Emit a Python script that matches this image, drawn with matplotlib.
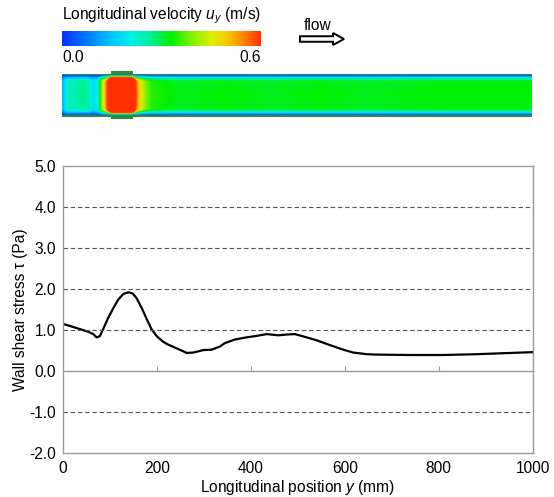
import numpy as np
import matplotlib
matplotlib.use('Agg')
import matplotlib.pyplot as plt
from matplotlib.colors import LinearSegmentedColormap, Normalize
from matplotlib.cm import ScalarMappable
from matplotlib.patches import Rectangle, FancyArrow

plt.rcParams['font.family'] = 'Liberation Sans'
plt.rcParams['font.size'] = 11.2
plt.rcParams['mathtext.fontset'] = 'custom'
plt.rcParams['mathtext.rm'] = 'Liberation Sans'
plt.rcParams['mathtext.it'] = 'Liberation Sans:italic'

# wall shear stress along the pipe
pos_mm = [0, 15, 37, 54, 65, 72, 79, 86, 97, 108, 118, 129, 140, 149, 157,
          168, 179, 189, 200, 214, 225, 243, 264, 278, 299, 317, 335, 345,
          367, 391, 409, 434, 459, 477, 494, 519, 540, 569, 597, 618, 647,
          668, 739, 810, 881, 952, 1000]
wss_pa = [1.15, 1.10, 1.02, 0.96, 0.90, 0.82, 0.85, 1.02, 1.30, 1.54, 1.74,
          1.88, 1.92, 1.89, 1.78, 1.54, 1.26, 1.02, 0.85, 0.71, 0.64, 0.55,
          0.44, 0.45, 0.51, 0.52, 0.60, 0.68, 0.77, 0.82, 0.85, 0.90, 0.87,
          0.89, 0.90, 0.82, 0.75, 0.63, 0.52, 0.45, 0.41, 0.40, 0.39, 0.39,
          0.41, 0.44, 0.46]

x_ticks = [0, 200, 400, 600, 800, 1000]
y_ticks = [-2, -1, 0, 1, 2, 3, 4, 5]
y_ticklabels = ['-2.0', '-1.0', '0.0', '1.0', '2.0', '3.0', '4.0', '5.0']
grid_levels = [-1, 1, 2, 3, 4]

# centreline velocity along the pipe (red = saturated)
u_pos_mm = [0, 5, 12, 30, 45, 58, 64, 70, 76, 80, 86, 92, 97, 104, 148, 157,
            163, 170, 177, 190, 250, 350, 450, 550, 650, 800, 1000]
u_center = [0.12, 0.18, 0.24, 0.25, 0.27, 0.24, 0.19, 0.19, 0.22, 0.30, 0.45,
            0.52, 0.65, 1.20, 1.20, 0.60, 0.50, 0.45, 0.40, 0.35, 0.32, 0.33,
            0.32, 0.33, 0.32, 0.33, 0.33]
# radial velocity shape, fraction of centreline value
r_frac = [0.0, 0.70, 0.78, 0.84, 0.90, 0.95, 1.0]
u_shape = [1.0, 0.98, 0.88, 0.70, 0.50, 0.30, 0.08]

stenosis_mm = (105, 150)
u_range = (0.0, 0.6)

cmap = LinearSegmentedColormap.from_list('vel', [
    (0.00, '#0a32ff'), (0.12, '#0078ff'), (0.25, '#00c8ff'),
    (0.35, '#00f0e8'), (0.45, '#00f08c'), (0.55, '#00f000'),
    (0.65, '#80f000'), (0.75, '#d8f000'), (0.82, '#f8d000'),
    (0.90, '#ff9000'), (1.00, '#ff3000')])
wall_color = '#2d8c3c'
frame_color = '#999999'

fig = plt.figure(figsize=(5.54, 4.97), dpi=100)
W, H = 554, 497


def px_axes(x0, y0, x1, y1):
    return fig.add_axes([x0 / W, 1 - y1 / H, (x1 - x0) / W, (y1 - y0) / H])


# ---- velocity contour of the pipe ----
pipe = px_axes(62, 69.3, 532, 121.3)
xg = np.linspace(0, 1000, 1001)
rg = np.linspace(-1, 1, 121)
field = np.interp(np.abs(rg), r_frac, u_shape)[:, None] * np.interp(xg, u_pos_mm, u_center)[None, :]
pipe.imshow(field, extent=[0, 1000, -1, 1], origin='lower', aspect='auto',
            cmap=cmap, vmin=u_range[0], vmax=u_range[1], interpolation='bilinear')
pipe.add_patch(Rectangle((0, 1.0), 1000, 0.09, color=wall_color, lw=0))
pipe.add_patch(Rectangle((0, -1.09), 1000, 0.09, color=wall_color, lw=0))
s0, s1 = stenosis_mm
pipe.add_patch(Rectangle((s0, 1.0), s1 - s0, 0.24, color=wall_color, lw=0))
pipe.add_patch(Rectangle((s0, -1.2), s1 - s0, 0.2, color=wall_color, lw=0))
pipe.set_xlim(0, 1000)
pipe.set_ylim(-1.3, 1.3)
pipe.axis('off')

# ---- colour bar ----
cax = px_axes(62, 31, 261, 46)
cb = fig.colorbar(ScalarMappable(Normalize(*u_range), cmap), cax=cax, orientation='horizontal')
cb.set_ticks([])
cb.outline.set_visible(False)

# ---- overlay for the text and arrow ----
ov = fig.add_axes([0, 0, 1, 1])
ov.set_xlim(0, W)
ov.set_ylim(H, 0)
ov.axis('off')
ov.text(62, 16, 'Longitudinal velocity $u_y$ (m/s)', va='center', ha='left')
ov.text(62, 57, '%.1f' % u_range[0], va='center', ha='left')
ov.text(261, 57, '%.1f' % u_range[1], va='center', ha='right')
ov.text(318, 25, 'flow', va='center', ha='center')
ov.add_patch(FancyArrow(300, 39, 44, 0, width=5.5, head_width=12, head_length=11,
                        length_includes_head=True, fc='white', ec='black', lw=1.4))

# ---- wall shear stress plot ----
ax = px_axes(62.7, 166, 532.7, 453)
ax.plot(pos_mm, wss_pa, color='black', lw=1.6)
for lv in grid_levels:
    ax.axhline(lv, color='#555555', lw=0.8, dashes=(4, 2.5))
ax.set_xlim(0, 1000)
ax.set_ylim(y_ticks[0], y_ticks[-1])
ax.set_xticks(x_ticks)
ax.set_yticks(y_ticks, y_ticklabels)
ax.tick_params(axis='both', length=0)
ax.tick_params(axis='x', pad=6)
ax.tick_params(axis='y', pad=5)
for sp in ax.spines.values():
    sp.set_color(frame_color)
    sp.set_linewidth(1.0)
ax.set_xlabel('Longitudinal position $y$ (mm)', labelpad=1)
ax.set_ylabel('Wall shear stress \u03c4 (Pa)', labelpad=1)

# zero line with small inward ticks
zero_loc = (0 - y_ticks[0]) / (y_ticks[-1] - y_ticks[0])
sec = ax.secondary_xaxis(zero_loc)
sec.set_xticks(x_ticks[1:-1])
sec.xaxis.set_ticks_position('bottom')
sec.tick_params(axis='x', direction='in', length=3.5, color=frame_color,
                labelbottom=False, labeltop=False)
for name, sp in sec.spines.items():
    sp.set_color(frame_color)
    sp.set_linewidth(1.0)

fig.savefig('out.png', dpi=100)
